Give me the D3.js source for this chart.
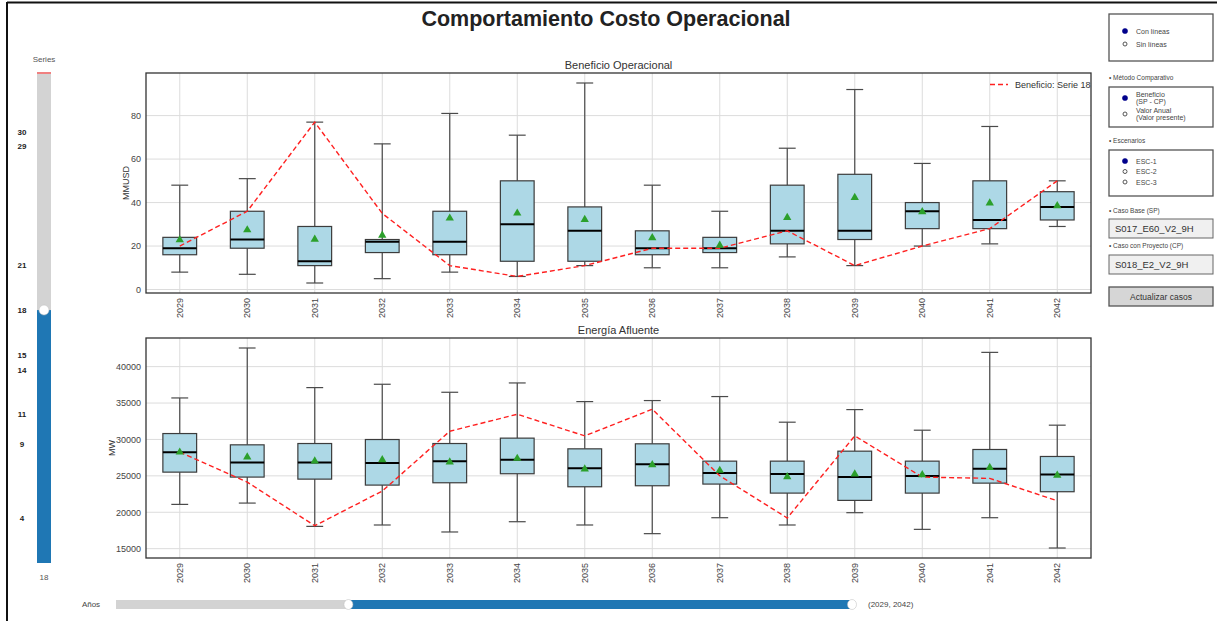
<!DOCTYPE html>
<html>
<head>
<meta charset="utf-8">
<script src="https://cdn.jsdelivr.net/npm/d3@7"></script>
<style>
  body { margin: 0; background: #fff; }
  svg { display: block; font-family: "Liberation Sans", Arial, sans-serif; }
</style>
</head>
<body>
<svg id="chart" width="1217" height="621"></svg>
<script>
// ---- Data -------------------------------------------------------------
const years = [2029, 2030, 2031, 2032, 2033, 2034, 2035, 2036, 2037, 2038, 2039, 2040, 2041, 2042];

// Beneficio Operacional (MMUSD) – box statistics per year
const benWhiskerLow  = [8, 7, 3, 5, 8, 6, 11, 10, 10, 15, 11, 20, 21, 29];
const benQ1          = [16, 19, 11, 17, 16, 13, 13, 16, 17, 21, 23, 28, 28, 32];
const benMedian      = [19, 23, 13, 22, 22, 30, 27, 19, 19, 27, 27, 36, 32, 38];
const benQ3          = [24, 36, 29, 23, 36, 50, 38, 27, 24, 48, 53, 40, 50, 45];
const benWhiskerHigh = [48, 51, 77, 67, 81, 71, 95, 48, 36, 65, 92, 58, 75, 50];
const benMean        = [22.8, 27.4, 23.1, 24.9, 32.8, 35.1, 32.2, 23.8, 20.3, 33.1, 42.3, 35.7, 39.8, 38.5];
const benSerie18     = [20, 36, 77, 35, 11, 6, 11, 19, 19, 27, 11, 20, 28, 50];

// Energía Afluente (MW) – box statistics per year
const eneWhiskerLow  = [21080, 21260, 18060, 18250, 17290, 18700, 18250, 17060, 19250, 18250, 19940, 17650, 19250, 15090];
const eneQ1          = [25510, 24830, 24550, 23730, 24050, 25290, 23500, 23640, 23870, 22630, 21630, 22630, 24000, 22820];
const eneMedian      = [28250, 26840, 26840, 26750, 27020, 27200, 26060, 26610, 25380, 25240, 24830, 24970, 25970, 25190];
const eneQ3          = [30810, 29260, 29440, 29990, 29440, 30180, 28710, 29400, 27020, 27020, 28390, 27020, 28620, 27660];
const eneWhiskerHigh = [35700, 42560, 37120, 37580, 36480, 37760, 35200, 35340, 35890, 32370, 34100, 31270, 41960, 31960];
const eneMean        = [28250, 27570, 27020, 27200, 26880, 27390, 25920, 26520, 25740, 24870, 25240, 25150, 26150, 25060];
const eneSerie18     = [28250, 24140, 18150, 22910, 31130, 33460, 30490, 34150, 25010, 19210, 30490, 24830, 24650, 21580];

const benTicks = [0, 20, 40, 60, 80];
const eneTicks = [15000, 20000, 25000, 30000, 35000, 40000];

// Slider / control texts
const seriesMarks = [30, 29, 21, 18, 15, 14, 11, 9, 4];
const seriesSelected = 18;
const seriesRange = [1, 34];
const yearRange = [2023, 2042];
const yearSelected = [2029, 2042];
const lineOptions = ["Con líneas", "Sin líneas"];
const escenarios = ["ESC-1", "ESC-2", "ESC-3"];

// ---- Setup ------------------------------------------------------------
const svg = d3.select("#chart");
const W = 1217, H = 621;

// outer page frame (left and top edges)
svg.append("line").attr("x1", 7).attr("x2", 7).attr("y1", 2).attr("y2", H)
  .attr("stroke", "#111").attr("stroke-width", 2);
svg.append("line").attr("x1", 7).attr("x2", W).attr("y1", 2.5).attr("y2", 2.5)
  .attr("stroke", "#111").attr("stroke-width", 2);

svg.append("text").attr("x", 606).attr("y", 25.5).attr("text-anchor", "middle")
  .attr("font-size", 21.5).attr("font-weight", "bold").attr("fill", "#222")
  .text("Comportamiento Costo Operacional");

// ---- Box plot panel ---------------------------------------------------
function boxPanel(cfg) {
  const { top, bottom, left, right, title, yLabel, yLabelX, ticks,
          lo, q1, med, q3, hi, mean, serie } = cfg;
  const g = svg.append("g");
  const x = d3.scaleBand().domain(years).range([left, right]).padding(0);
  const dMin = d3.min(lo), dMax = d3.max(hi);
  const pad = (dMax - dMin) * 0.05;
  const y = d3.scaleLinear().domain([dMin - pad, dMax + pad]).range([bottom, top]);
  const bw = x.bandwidth();
  const cx = d => x(d) + bw / 2;

  // grid
  g.append("g").selectAll("line").data(ticks).join("line")
    .attr("x1", left).attr("x2", right)
    .attr("y1", d => y(d)).attr("y2", d => y(d))
    .attr("stroke", "#dcdcdc").attr("stroke-width", 1);
  g.append("g").selectAll("line").data(years).join("line")
    .attr("x1", cx).attr("x2", cx).attr("y1", top).attr("y2", bottom)
    .attr("stroke", "#dcdcdc").attr("stroke-width", 1);

  // axes
  const ya = g.append("g").attr("transform", `translate(${left},0)`)
    .call(d3.axisLeft(y).tickValues(ticks).tickSize(0).tickPadding(5).tickFormat(d3.format("d")));
  ya.select(".domain").remove();
  ya.selectAll("text").attr("font-size", 9).attr("fill", "#444").attr("font-family", "Liberation Sans, Arial, sans-serif");

  const xa = g.append("g").attr("transform", `translate(0,${bottom})`)
    .call(d3.axisBottom(x).tickSize(0).tickPadding(0));
  xa.select(".domain").remove();
  xa.selectAll("text")
    .attr("font-size", 9).attr("fill", "#444").attr("font-family", "Liberation Sans, Arial, sans-serif")
    .attr("transform", "rotate(-90)").attr("text-anchor", "end")
    .attr("x", -5).attr("y", 0).attr("dy", "0.32em");

  // whiskers
  const idx = d3.range(years.length);
  const wg = g.append("g").attr("stroke", "#4a4a4a").attr("stroke-width", 1.2);
  wg.selectAll(".wl").data(idx).join("line")
    .attr("x1", i => cx(years[i])).attr("x2", i => cx(years[i]))
    .attr("y1", i => y(hi[i])).attr("y2", i => y(q3[i]));
  wg.selectAll(".wb").data(idx).join("line")
    .attr("x1", i => cx(years[i])).attr("x2", i => cx(years[i]))
    .attr("y1", i => y(q1[i])).attr("y2", i => y(lo[i]));
  wg.selectAll(".ct").data(idx).join("line")
    .attr("x1", i => cx(years[i]) - bw * 0.125).attr("x2", i => cx(years[i]) + bw * 0.125)
    .attr("y1", i => y(hi[i])).attr("y2", i => y(hi[i]));
  wg.selectAll(".cb").data(idx).join("line")
    .attr("x1", i => cx(years[i]) - bw * 0.125).attr("x2", i => cx(years[i]) + bw * 0.125)
    .attr("y1", i => y(lo[i])).attr("y2", i => y(lo[i]));

  // boxes
  g.append("g").selectAll("rect").data(idx).join("rect")
    .attr("x", i => cx(years[i]) - bw * 0.25).attr("width", bw * 0.5)
    .attr("y", i => y(q3[i])).attr("height", i => y(q1[i]) - y(q3[i]))
    .attr("fill", "#add8e6").attr("stroke", "#3c3c3c").attr("stroke-width", 1.2);

  // medians
  g.append("g").selectAll("line").data(idx).join("line")
    .attr("x1", i => cx(years[i]) - bw * 0.25).attr("x2", i => cx(years[i]) + bw * 0.25)
    .attr("y1", i => y(med[i])).attr("y2", i => y(med[i]))
    .attr("stroke", "#000").attr("stroke-width", 2);

  // selected series line
  const line = d3.line().x((d, i) => cx(years[i])).y(d => y(d));
  g.append("path").datum(serie).attr("d", line)
    .attr("fill", "none").attr("stroke", "#ff2020").attr("stroke-width", 1.4)
    .attr("stroke-dasharray", "5,3");

  // means
  const tri = d3.symbol().type(d3.symbolTriangle).size(30);
  g.append("g").selectAll("path").data(idx).join("path")
    .attr("d", tri)
    .attr("transform", i => `translate(${cx(years[i])},${y(mean[i])})`)
    .attr("fill", "#2ca02c");

  // frame
  g.append("rect").attr("x", left).attr("y", top)
    .attr("width", right - left).attr("height", bottom - top)
    .attr("fill", "none").attr("stroke", "#333").attr("stroke-width", 1.3);

  // titles
  g.append("text").attr("x", (left + right) / 2).attr("y", top - 4)
    .attr("text-anchor", "middle").attr("font-size", 11).attr("fill", "#333").text(title);
  g.append("text")
    .attr("transform", `translate(${yLabelX},${(top + bottom) / 2}) rotate(-90)`)
    .attr("text-anchor", "middle").attr("font-size", 9).attr("fill", "#333").text(yLabel);

  return { g, x, y };
}

const p1 = boxPanel({
  top: 73, bottom: 293, left: 146, right: 1091,
  title: "Beneficio Operacional", yLabel: "MMUSD", yLabelX: 129, ticks: benTicks,
  lo: benWhiskerLow, q1: benQ1, med: benMedian, q3: benQ3, hi: benWhiskerHigh,
  mean: benMean, serie: benSerie18
});
const p2 = boxPanel({
  top: 338, bottom: 558, left: 146, right: 1091,
  title: "Energía Afluente", yLabel: "MW", yLabelX: 115, ticks: eneTicks,
  lo: eneWhiskerLow, q1: eneQ1, med: eneMedian, q3: eneQ3, hi: eneWhiskerHigh,
  mean: eneMean, serie: eneSerie18
});

// legend inside the top panel
const lg = svg.append("g");
lg.append("line").attr("x1", 990).attr("x2", 1008).attr("y1", 84.5).attr("y2", 84.5)
  .attr("stroke", "#ff2020").attr("stroke-width", 1.4).attr("stroke-dasharray", "5,3");
lg.append("text").attr("x", 1015).attr("y", 88).attr("font-size", 9).attr("fill", "#333")
  .text("Beneficio: Serie " + seriesSelected);

// ---- Vertical series slider ------------------------------------------
const sy = d3.scaleLinear().domain(seriesRange).range([563, 72]);
const sl = svg.append("g");
sl.append("text").attr("x", 44).attr("y", 62).attr("text-anchor", "middle")
  .attr("font-size", 8).attr("fill", "#555").text("Series");
sl.append("rect").attr("x", 37).attr("width", 14)
  .attr("y", sy(seriesRange[1])).attr("height", sy(seriesSelected) - sy(seriesRange[1]))
  .attr("fill", "#d3d3d3");
sl.append("rect").attr("x", 37).attr("width", 14)
  .attr("y", sy(seriesRange[1])).attr("height", 2).attr("fill", "#f08080");
sl.append("rect").attr("x", 37).attr("width", 14)
  .attr("y", sy(seriesSelected)).attr("height", sy(seriesRange[0]) - sy(seriesSelected))
  .attr("fill", "#1f77b4");
sl.append("circle").attr("cx", 44).attr("cy", sy(seriesSelected)).attr("r", 5)
  .attr("fill", "#fff").attr("stroke", "#bbb").attr("stroke-width", 0.5);
sl.selectAll(".mk").data(seriesMarks).join("text")
  .attr("x", 22).attr("y", d => sy(d) + 3).attr("text-anchor", "middle")
  .attr("font-size", 8).attr("font-weight", "bold").attr("fill", "#222").text(d => d);
sl.append("text").attr("x", 44).attr("y", 580).attr("text-anchor", "middle")
  .attr("font-size", 8).attr("fill", "#555").text(seriesSelected);

// ---- Horizontal year slider ------------------------------------------
const yx = d3.scaleLinear().domain(yearRange).range([116, 852]);
const ys = svg.append("g");
ys.append("text").attr("x", 91).attr("y", 607).attr("text-anchor", "middle")
  .attr("font-size", 8).attr("fill", "#444").text("Años");
ys.append("rect").attr("x", yx(yearRange[0])).attr("y", 600)
  .attr("width", yx(yearRange[1]) - yx(yearRange[0])).attr("height", 9).attr("fill", "#d3d3d3");
ys.append("rect").attr("x", yx(yearSelected[0])).attr("y", 600)
  .attr("width", yx(yearSelected[1]) - yx(yearSelected[0])).attr("height", 9).attr("fill", "#1f77b4");
ys.selectAll("ellipse").data(yearSelected).join("ellipse")
  .attr("cx", d => yx(d)).attr("cy", 604.5).attr("rx", 4.5).attr("ry", 5)
  .attr("fill", "#fff").attr("stroke", "#bbb").attr("stroke-width", 0.5);
ys.append("text").attr("x", 868).attr("y", 607)
  .attr("font-size", 8).attr("fill", "#444")
  .text(`(${yearSelected[0]}, ${yearSelected[1]})`);

// ---- Right control panel ---------------------------------------------
const cp = svg.append("g");
const boxStyle = sel => sel.attr("fill", "#fff").attr("stroke", "#555").attr("stroke-width", 1.3);
function radio(x, y, on) {
  cp.append("circle").attr("cx", x).attr("cy", y).attr("r", on ? 2.6 : 2)
    .attr("fill", on ? "#00008b" : "#fff")
    .attr("stroke", on ? "#00008b" : "#555").attr("stroke-width", on ? 0.5 : 1);
}
function label(x, y, t, size = 7, color = "#444") {
  cp.append("text").attr("x", x).attr("y", y).attr("font-size", size).attr("fill", color).text(t);
}

// line options
cp.append("rect").attr("x", 1109).attr("y", 14).attr("width", 104).attr("height", 47).call(boxStyle);
lineOptions.forEach((t, i) => {
  radio(1125, 31 + i * 13, i === 0);
  label(1136, 33.5 + i * 13, t);
});

// comparison method
label(1109, 80, "• Método Comparativo", 6.5);
cp.append("rect").attr("x", 1109).attr("y", 87).attr("width", 104).attr("height", 40).call(boxStyle);
radio(1125, 98, true);
label(1136, 97, "Beneficio");
label(1136, 104, "(SP - CP)");
radio(1125, 114, false);
label(1136, 113, "Valor Anual");
label(1136, 120, "(Valor presente)");

// scenarios
label(1109, 143, "• Escenarios", 6.5);
cp.append("rect").attr("x", 1109).attr("y", 150).attr("width", 104).attr("height", 46).call(boxStyle);
escenarios.forEach((t, i) => {
  radio(1125, 161 + i * 10.5, i === 0);
  label(1136, 163.5 + i * 10.5, t);
});

// case inputs
label(1109, 213, "• Caso Base (SP)", 6.5);
cp.append("rect").attr("x", 1109).attr("y", 219).attr("width", 104).attr("height", 19)
  .attr("fill", "#f0f0f0").attr("stroke", "#666").attr("stroke-width", 1);
label(1115, 232, "S017_E60_V2_9H", 9.5, "#333");
label(1109, 248, "• Caso con Proyecto (CP)", 6.5);
cp.append("rect").attr("x", 1109).attr("y", 255).attr("width", 104).attr("height", 19)
  .attr("fill", "#f0f0f0").attr("stroke", "#666").attr("stroke-width", 1);
label(1115, 268, "S018_E2_V2_9H", 9.5, "#333");

// update button
cp.append("rect").attr("x", 1109).attr("y", 287).attr("width", 104).attr("height", 19)
  .attr("fill", "#d6d6d6").attr("stroke", "#555").attr("stroke-width", 1.3);
cp.append("text").attr("x", 1161).attr("y", 300).attr("text-anchor", "middle")
  .attr("font-size", 8.5).attr("fill", "#333").text("Actualizar casos");
</script>
</body>
</html>
